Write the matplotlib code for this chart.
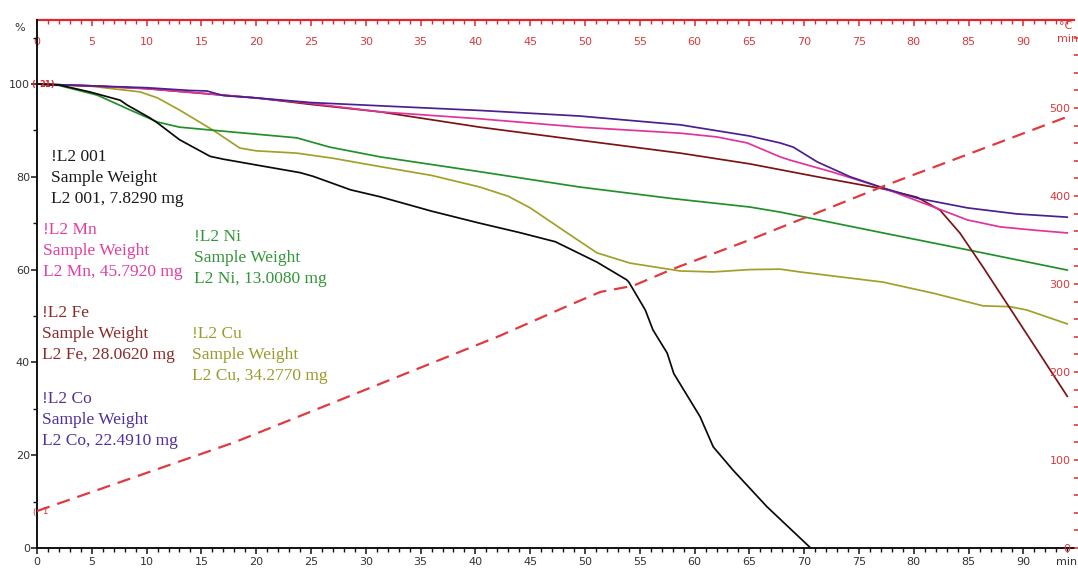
import numpy as np
import matplotlib
matplotlib.use("Agg")
import matplotlib.pyplot as plt
from matplotlib.ticker import MultipleLocator, FixedLocator

# ---------------- data ----------------
t_001 = [0, 2, 4.8, 7.6, 8.2, 10.3, 11, 13, 15.8, 17, 20.6, 24, 25.2, 28.6, 31.3, 36, 40.4, 44, 47.3,
         51.1, 53.8, 54, 55.5, 56.2, 57.5, 58.1, 60.5, 61.7, 63.5, 66.6, 70.5]
w_001 = [100, 99.8, 98.3, 96.5, 95.5, 92.7, 91.6, 88, 84.4, 83.8, 82.3, 80.9, 80.1, 77.2, 75.7, 72.6, 70, 68, 66,
         61.6, 57.8, 57.3, 51.3, 47.0, 42.0, 37.6, 28.3, 21.8, 16.8, 8.9, 0.2]

t_mn = [0, 5, 10, 16, 20, 25, 31.3, 40.4, 49.5, 58.7, 62, 64.8, 67.8, 68.7, 72.6, 77.2, 81.8, 84.9, 87.9, 91, 94]
w_mn = [100, 99.6, 99, 97.8, 97, 95.8, 94, 92.5, 90.7, 89.4, 88.6, 87.3, 84.3, 83.6, 81, 77.6, 73.5, 70.7, 69.2, 68.5, 67.9]

t_ni = [0, 2, 5.5, 8.5, 11, 13, 17.6, 23.7, 26.7, 31.3, 40.4, 49.5, 58, 65, 67.8, 77.2, 86.3, 94]
w_ni = [100, 99.7, 97.6, 94.4, 91.8, 90.7, 89.7, 88.4, 86.4, 84.3, 81.1, 77.8, 75.3, 73.5, 72.4, 67.9, 63.6, 59.9]

t_fe = [0, 5, 10, 16, 20, 25, 31.3, 40.4, 49.5, 58.7, 65, 71.2, 77.2, 80.3, 82.4, 84.2, 86.3, 89.4, 91.8, 94]
w_fe = [100, 99.6, 99, 97.8, 97, 95.6, 94, 90.7, 87.9, 85.1, 82.8, 80, 77.4, 75.6, 72.8, 67.9, 60.6, 49.4, 40.7, 32.7]

t_cu = [0, 5, 9.4, 11, 13, 16.1, 18.5, 20, 23.7, 27, 31.3, 36, 40.4, 43, 45, 48, 51.1, 54.1, 58.7, 61.7,
        65, 67.8, 69.6, 77.2, 81.8, 86.3, 88.8, 90.3, 94]
w_cu = [100, 99.5, 98.3, 97, 94.4, 90, 86.2, 85.6, 85.1, 84, 82.2, 80.3, 77.8, 75.8, 73.3, 68.5, 63.6, 61.4, 59.7, 59.5,
        60, 60.1, 59.5, 57.3, 54.9, 52.2, 52, 51.3, 48.3]

t_co = [0, 5, 10, 14, 15.5, 17, 20, 25, 31.3, 40.4, 49.5, 58.7, 65, 67.8, 69, 71.2, 74.2, 77.2, 80.3, 84.9, 89.4, 94]
w_co = [100, 99.6, 99.2, 98.6, 98.5, 97.5, 97, 96, 95.3, 94.3, 93.1, 91.2, 88.8, 87.3, 86.4, 83.2, 80, 77.6, 75.4, 73.3, 72, 71.3]

t_temp = [0, 18, 30, 42.2, 48.4, 51.4, 54.4, 58, 65, 77.2, 94]
temp_c = [42, 120, 180, 241, 275, 291, 298, 317, 350, 411, 490]

x_major = list(range(0, 91, 5))
pct_major = [0, 20, 40, 60, 80, 100]
temp_major = [0, 100, 200, 300, 400, 500]

blocks = [
    ("!L2 001", "Sample Weight", "L2 001, 7.8290 mg"),
    ("!L2 Mn", "Sample Weight", "L2 Mn, 45.7920 mg"),
    ("!L2 Ni", "Sample Weight", "L2 Ni, 13.0080 mg"),
    ("!L2 Fe", "Sample Weight", "L2 Fe, 28.0620 mg"),
    ("!L2 Cu", "Sample Weight", "L2 Cu, 34.2770 mg"),
    ("!L2 Co", "Sample Weight", "L2 Co, 22.4910 mg"),
]

# ---------------- styles ----------------
RED = "#e0262c"
RED_LBL = "#d9393f"
line_colors = {"001": "#0a0a0a", "mn": "#e0339c", "ni": "#22902a", "fe": "#7c1414", "cu": "#a2a028", "co": "#4b1f8f"}
text_colors = ["#1a1a1a", "#e23ea0", "#33963a", "#8c2a2a", "#9c9a2c", "#52309c"]
block_pos = [(51, 157), (43, 230), (194, 237), (42, 313), (192, 334), (42, 399)]  # pixel positions

W, H = 1078, 572
fig = plt.figure(figsize=(W / 100, H / 100), dpi=100)
x0, x1, ytop, ybot = 37, 1074, 20, 548
ax = fig.add_axes([x0 / W, (H - ybot) / H, (x1 - x0) / W, (ybot - ytop) / H])
ax.set_xlim(0, (x1 - x0) / 10.96)
ax.set_ylim(0, (ybot - ytop) / 4.64)

lw = 1.25
ax.plot(t_cu, w_cu, color=line_colors["cu"], lw=lw)
ax.plot(t_ni, w_ni, color=line_colors["ni"], lw=lw)
ax.plot(t_fe, w_fe, color=line_colors["fe"], lw=lw)
ax.plot(t_mn, w_mn, color=line_colors["mn"], lw=lw)
ax.plot(t_co, w_co, color=line_colors["co"], lw=lw)
ax.plot(t_001, w_001, color=line_colors["001"], lw=lw)

FS = 8

# left / bottom axes
for s in ("top", "right"):
    ax.spines[s].set_visible(False)
for s in ("left", "bottom"):
    ax.spines[s].set_color("#111111")
    ax.spines[s].set_linewidth(1.4)
ax.xaxis.set_major_locator(FixedLocator(x_major))
ax.xaxis.set_minor_locator(MultipleLocator(1))
ax.yaxis.set_major_locator(FixedLocator(pct_major))
ax.yaxis.set_minor_locator(FixedLocator([10, 30, 50, 70, 90, 110]))
ax.tick_params(axis="x", which="major", direction="out", length=4.5, width=1.1, color="#111111",
               labelsize=FS, labelcolor="#333333", pad=2)
ax.tick_params(axis="x", which="minor", direction="out", length=3, width=1.0, color="#111111")
ax.tick_params(axis="y", which="major", direction="out", length=4, width=1.1, color="#111111",
               labelsize=FS, labelcolor="#333333", pad=1)
ax.tick_params(axis="y", which="minor", direction="out", length=3, width=1.0, color="#111111")

# top (red) time axis
sec = ax.secondary_xaxis("top")
sec.spines["top"].set_color(RED)
sec.spines["top"].set_linewidth(1.6)
sec.xaxis.set_major_locator(FixedLocator(x_major))
sec.xaxis.set_minor_locator(MultipleLocator(1))
sec.tick_params(axis="x", which="major", direction="in", length=4.5, width=1.1, color=RED,
                labelsize=FS, labelcolor=RED_LBL, pad=-19.5)
sec.tick_params(axis="x", which="minor", direction="in", length=3, width=1.0, color=RED)

# right (red) temperature axis
ax2 = ax.twinx()
ax2.set_ylim(0, 600)
ax2.plot(t_temp, temp_c, color="#e03a3e", lw=1.6, dashes=(6, 3.6))
for s in ax2.spines.values():
    s.set_visible(False)
ax2.yaxis.set_major_locator(FixedLocator(temp_major))
ax2.yaxis.set_minor_locator(FixedLocator([v for v in range(20, 600, 20) if v % 100 != 0]))
ax2.tick_params(axis="y", which="major", direction="out", length=3.5, width=1.1, color=RED,
                labelsize=FS, labelcolor=RED_LBL, pad=-6)
ax2.tick_params(axis="y", which="minor", direction="out", length=3.5, width=1.1, color=RED)
for tk in ax2.yaxis.get_major_ticks():
    tk.label2.set_horizontalalignment("right")

# small red start markers
fig.text(33 / W, 1 - 84 / H, "(", fontsize=6, color=RED, ha="center", va="center", fontweight="bold")
fig.text(47 / W, 1 - 84 / H, "21)", fontsize=6, color=RED, ha="center", va="center", fontweight="bold")
fig.text(34 / W, 1 - 512 / H, "(", fontsize=6, color=RED, ha="center", va="center")
fig.text(45 / W, 1 - 512 / H, "1", fontsize=6, color=RED, ha="center", va="center")

# axis unit labels
fig.text(20 / W, 1 - 28 / H, "%", fontsize=FS, color="#333333", ha="center", va="center")
fig.text(1066 / W, 1 - 26 / H, "°C", fontsize=FS, color=RED_LBL, ha="center", va="center")
fig.text(1068 / W, 1 - 39 / H, "min", fontsize=FS, color=RED_LBL, ha="center", va="center")
fig.text(1067 / W, 1 - 562 / H, "min", fontsize=FS, color="#333333", ha="center", va="center")

# sample annotation blocks
for (lines, col, (px, py)) in zip(blocks, text_colors, block_pos):
    for i, s in enumerate(lines):
        fig.text(px / W, 1 - (py + 21 * i) / H, s, family="Liberation Serif", fontsize=12.5,
                 color=col, ha="left", va="center")

fig.savefig("out.png", dpi=100)
